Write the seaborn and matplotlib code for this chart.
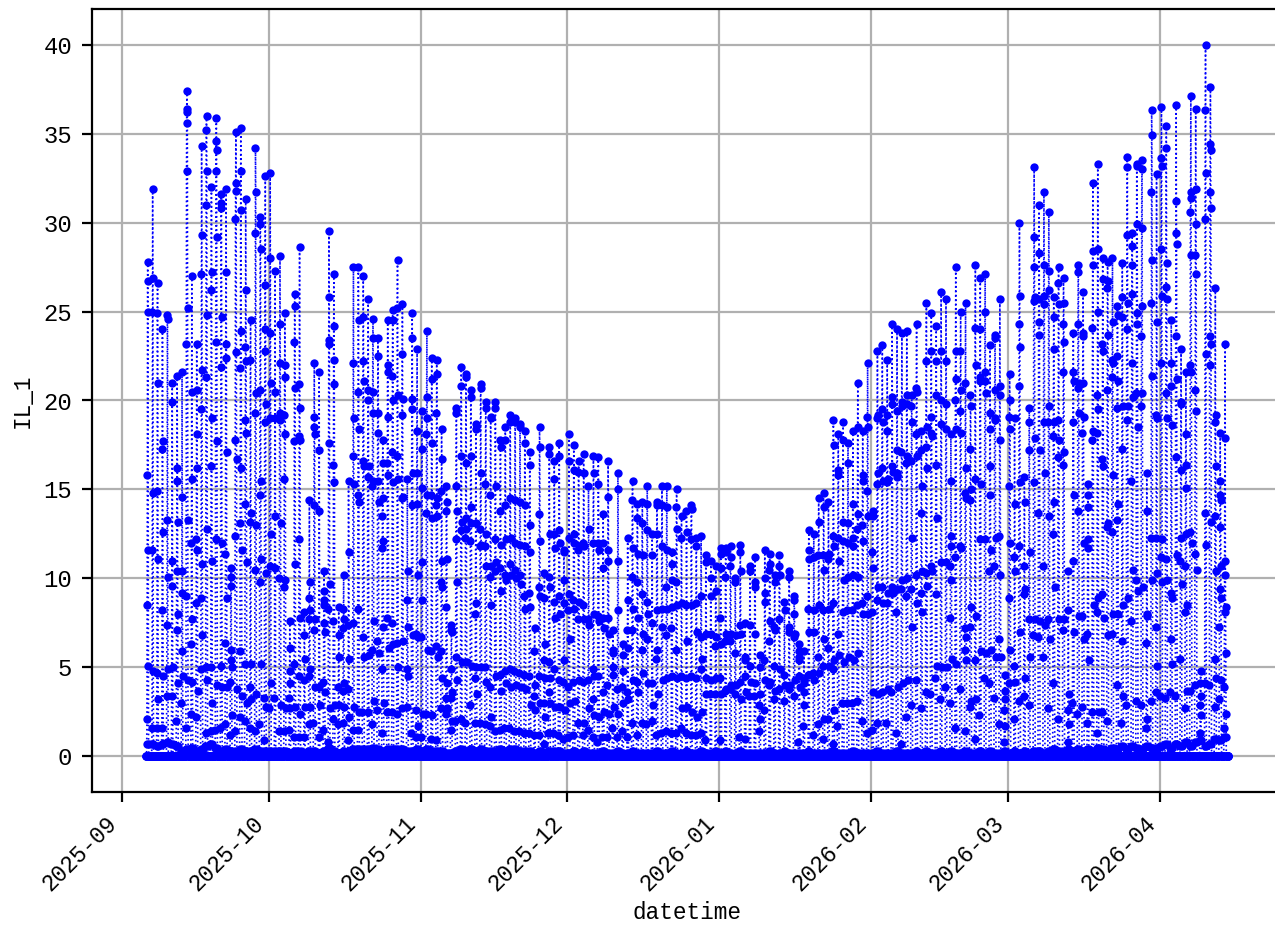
import pandas as pd
import matplotlib
matplotlib.use('Agg')
import matplotlib.pyplot as plt
import matplotlib.dates as mdates
import seaborn as sns

# daytime readings per day
sep_days = [
    [27.8, 26.7, 25, 15.8, 11.6, 8.5, 5.1, 2.1], [31.9, 26.9, 25, 14.8, 11.6, 4.8, 1.6], [26.6, 24.9, 21, 14.9, 11.1, 4.7, 3.2, 1.6],
    [24, 17.7, 17.3, 12.6, 8.2, 4.5, 1.6], [24.8, 24.6, 13.3, 10.1, 7.4, 4.9, 3.4], [21, 19.9, 11, 9.6, 5, 3.4],
    [21.4, 16.2, 15.5, 13.2, 10.4, 8, 7.1, 4.1, 2], [21.6, 14.6, 10.4, 9.2, 5.9, 4.5, 3], [37.4, 36.4, 36.2, 35.6, 32.9, 25.2, 23.2, 13.3, 9, 4.3, 1.6],
    [27, 20.5, 15.6, 12, 7.7, 6.3, 4.2, 2.4], [23.2, 20.6, 18.1, 16.2, 12.2, 11.6, 8.6, 3.7, 2.2], [34.3, 29.3, 27.1, 21.7, 19.5, 10.8, 8.9, 6.8, 4.9],
    [36, 35.2, 32.9, 31, 24.8, 21.3, 12.8, 5, 4.3, 1.3], [32, 27.2, 26.2, 19, 16.3, 11, 5, 3, 1.4], [35.9, 34.6, 34.1, 32.9, 29.2, 23.3, 17.7, 12.2, 4, 1.5],
    [31.6, 31.1, 30.8, 24.7, 21.9, 12, 5.1, 3.9, 1.6], [31.9, 27.2, 23.2, 22.4, 17.1, 11.4, 8.9, 6.4, 3.9, 1.8], [10.6, 10.1, 9.6, 6, 5.4, 5, 4.2, 2.3, 1.2],
    [35.1, 32.2, 31.8, 30.2, 22.7, 17.8, 16.7, 12.4, 3.8, 1.4], [35.3, 32.9, 30.7, 23.9, 21.8, 16.2, 13.1, 11.6, 5.9, 3.4, 2.2], [31.3, 26.2, 23, 22.2, 18.9, 18.2, 14.2, 10.9, 5.2, 3, 2],
    [24.5, 22.3, 13.7, 13.2, 5.2, 3.9, 3.2, 1.6], [34.2, 31.7, 29.4, 20.4, 19.3, 13, 10.5, 3.5, 1.4], [30.3, 29.9, 28.5, 20.6, 15.5, 14.7, 11.1, 9.8, 5.2, 1.8],
    [32.6, 26.5, 24, 22.8, 19.8, 18.8, 10.3, 3.3, 2.8, 0.9],
]
oct_days = [
    [32.8, 28, 23.8, 21, 19, 12.5, 10.7, 4.1, 2.7], [27.3, 20.5, 19, 13.5, 10.6, 3.3], [28.1, 24.3, 22.1, 19.3, 18.9, 13.1, 10, 2.9, 1.4],
    [24.9, 22, 21.3, 19.2, 18.1, 15.6, 9.9, 9.5, 2.7, 1.4], [7.6, 6.1, 4.8, 4.1, 3.3, 2.7, 1.5], [26, 25.3, 23.3, 20.7, 17.7, 10.8, 5.2, 2.8, 1.1],
    [28.6, 20.9, 19.6, 18, 17.8, 12.2, 7.8, 4.5, 2.4, 1.1], [8.1, 6.8, 5.5, 4.3, 2.8, 1.1], [14.4, 9.8, 8.9, 8.2, 7.7, 4.9, 4.5, 2.8, 1.8],
    [22.1, 19.1, 18.5, 18.1, 14.1, 7.7, 7.1, 3.9, 1.9], [21.6, 17.2, 13.8, 3.9, 2.9, 1.1], [10.4, 9.3, 8.8, 8.5, 7.5, 7, 4.2, 3.6, 1.5],
    [29.5, 25.8, 23.4, 23.2, 17.6, 9.7, 8.3, 2.7, 0.8], [27.1, 24.2, 22.3, 20.9, 16.4, 15.4, 7.6, 2.9, 2.1], [8.4, 6.8, 5.6, 3.9, 2.9, 1.8],
    [10.2, 8.3, 7.7, 7.2, 4.1, 3.7, 2.8, 1.9], [15.5, 11.5, 7.4, 5.5, 3.8, 2.2, 0.9], [27.5, 22.1, 19, 16.9, 15.3, 7.5, 2.8, 1.5],
    [27.5, 24.5, 20.5, 18.4, 14.7, 14.3, 8.3, 2.5, 1.5], [27, 24.7, 22.2, 21.1, 16.6, 16.3, 6.7, 5.6, 2.5], [25.7, 20.6, 20, 16.3, 15.7, 5.7, 2.5],
    [24.6, 23.5, 20.5, 19.3, 15.5, 15.2, 7.6, 6, 3.1, 1.8], [23.5, 22.5, 19.3, 18.2, 15.5, 14.3, 6.5, 5.8, 2.6], [17.8, 16.5, 14.5, 13.5, 12.1, 11.7, 7.3, 4.9, 3, 1.3],
    [24.5, 22, 21.6, 19.1, 16.5, 15.8, 7.8, 6.1, 2.5], [25.1, 24.5, 21.4, 20, 17.1, 15.4, 7.5, 6.3, 2.5], [27.9, 25.2, 20.3, 16.9, 15.6, 6.4, 5, 2.4],
    [25.4, 22.6, 20.1, 19.2, 14.6, 14.5, 6.5, 2.7], [15.6, 10.4, 8.8, 7.3, 4.9, 4.5, 2.8], [24.9, 23.5, 20.1, 19.5, 15.9, 14.1, 6.8, 1.3],
    [22.9, 18.3, 15.9, 14.2, 10.2, 6.9, 6.7, 2.6, 1.7, 1.1],
]
nov_days = [
    [19.4, 17.3, 15.1, 10.9, 8.8, 6.7, 2.4, 1.1], [23.9, 20.2, 19, 18.1, 14.7, 13.7, 6, 2.4], [22.4, 21.2, 17.6, 14.7, 13.4, 5.9, 2.3, 1],
    [22.3, 21.5, 19.3, 14.5, 14.1, 13.5, 6.2, 5.6, 0.9], [18.4, 16.7, 14.9, 11, 9.8, 9.5, 5.9, 4.4, 2.7], [15.2, 14.3, 13.8, 11.1, 8.4, 4.1, 3.3, 2.7, 2.4],
    [7.4, 7.1, 7, 4.9, 3.6, 3.3, 2, 1.5], [19.6, 19.3, 15.2, 13.8, 12.2, 9.8, 5.6, 4.3, 2], [21.9, 20.8, 16.9, 13.2, 12.7, 5.3, 2.1],
    [21.5, 21.3, 16.5, 13.4, 12.8, 12.3, 5.3, 1.9], [20.6, 20.2, 16.9, 14, 13.1, 12.1, 5.1, 2.9], [18.7, 18.4, 13.1, 8.6, 8, 5, 4.4, 3.5, 1.9],
    [20.9, 20.7, 15.9, 12.8, 11.9, 11.8, 5, 1.9], [19.9, 19.6, 15.3, 12.5, 11.8, 10.7, 5, 4.2, 1.8], [19.1, 19, 14.7, 10.7, 10.1, 8.5, 3.9, 2.2, 1.7],
    [19.9, 19.6, 15.2, 12.2, 10.9, 10.4, 4.5, 1.4], [17.8, 17.4, 13.8, 11.9, 10.6, 9.3, 4.6, 3.7, 1.5], [18.5, 17.8, 14.1, 12.2, 10.2, 9.9, 4.8, 4.1, 1.6],
    [19.2, 18.8, 14.5, 12.3, 10.8, 10.2, 4.9, 3.9, 1.6], [19, 18.8, 14.4, 12, 10.5, 10, 4.8, 4, 1.4], [18.7, 18.5, 14.3, 11.9, 10.2, 9.7, 4.7, 3.9, 1.4],
    [18.3, 17.6, 14.1, 11.8, 9, 8.3, 4.6, 3.8, 1.3], [17.1, 16.4, 13, 11.5, 9.2, 8.4, 4.5, 2.9, 1.3], [7.2, 5.9, 4, 3.4, 2.6, 1.2],
    [18.5, 17.4, 13.6, 12.1, 9.5, 9, 4.5, 3, 1.2], [10.3, 8.9, 6.3, 5.4, 4.4, 3, 2.2, 0.7], [17.4, 17, 12.5, 10.1, 9.5, 5.3, 4.4, 3.6, 3, 1.3],
    [16.6, 15.6, 12.5, 11.7, 8.7, 7.8, 4.9, 2.8, 1.3], [17.6, 16.9, 12.7, 12, 9, 8, 4.3, 2.8, 1.2], [11.6, 11.5, 9.9, 8.6, 5.4, 4.2, 2.6, 1],
]
dec_days = [
    [18.1, 16.6, 12.3, 9.1, 8.2, 6.6, 3.9, 3, 1.1], [17.5, 16.1, 12.5, 12, 8.8, 8.3, 4.2, 3.1, 1.2], [16.6, 16, 11.8, 11.6, 8.7, 7.7, 4.3, 1.9],
    [17, 15.9, 12, 11.8, 8.5, 7.7, 4.2, 1.9, 1.2], [15.2, 12.8, 7.7, 7.4, 4.3, 2.7, 1.5], [16.9, 15.9, 12, 8, 4.9, 4.5, 3.2, 2.3, 1.1],
    [16.8, 15.3, 12, 11.6, 7.9, 7.6, 4.5, 2.2, 0.8], [13.6, 12, 10.6, 7.8, 7.2, 3.6, 2.5, 1.1], [16.6, 14.6, 11.6, 11, 7.8, 6.9, 4, 2.4, 1.1],
    [7.1, 6, 5.8, 5, 4.6, 2.8, 1.6], [15.9, 15, 11, 8.2, 3.8, 2.4, 1.1], [6.3, 5.7, 4.8, 3.9, 3, 1.4],
    [12.3, 8.8, 7.1, 6.1, 3.6, 3.2, 1.1], [15.5, 14.4, 11.7, 10.1, 8.3, 7.1, 4.3, 1.9], [14.2, 13.4, 11.4, 9.8, 7.8, 4.2, 3.6, 1.2],
    [14.3, 13.1, 11.3, 9.1, 6.9, 6, 4.7, 1.9], [15.2, 14.2, 12.7, 8.7, 8, 6.6, 4.1, 1.8], [12.5, 11.3, 7.5, 4.1, 2.9, 2],
    [14.3, 14.1, 12.5, 8.2, 6, 5.5, 3.5, 1.2], [15.2, 14.1, 11.8, 8.3, 7.3, 4.3, 1.3], [15.2, 14, 11.6, 9.5, 8.3, 6.8, 4.4, 1.4],
    [11.5, 10.8, 9.9, 8.4, 7.2, 4.5, 1.3], [15, 14, 12.8, 9.8, 8.5, 6, 4.4, 1.3], [13.5, 12.3, 8.6, 4.5, 2.7, 1.6],
    [13.8, 12.6, 8.5, 6.5, 4.4, 2.8, 1.3], [14.1, 13.9, 12.2, 8.5, 4.5, 2.5, 1.2], [12.3, 11.8, 8.6, 7, 4.4, 2.2, 1.2],
    [12.4, 9, 6.7, 5.5, 4.9, 2.5, 1.3], [11.3, 10.9, 6.9, 4.4, 3.5, 0.9], [11, 10, 9, 6.9, 4.3, 3.5],
    [10.7, 9.3, 6.7, 6.2, 4.4, 3.5],
]
jan_days = [
    [11.7, 11.4, 10.6, 7.8, 6.3, 4.4, 3.5, 0.9], [11.7, 11.5, 10.1, 6.9, 6.5, 3.8, 3.7], [11.8, 11.2, 10.7, 6.9, 6.5, 4, 3.8],
    [10, 9.8, 6.8, 5.8, 4, 3.5], [11.9, 11.5, 10.4, 7.4, 6.9, 4.2, 3.2, 1.1], [7.5, 5.6, 5.4, 4.5, 3.6, 1],
    [10.7, 10.4, 7.4, 5.1, 4.2, 3.4], [11.2, 9.8, 9.5, 6.9, 4.1, 3.4], [5.7, 5, 3.5, 2.9, 2.1, 1.4],
    [11.6, 10, 9.2, 8.7, 5.4, 4.3, 2.6], [11.4, 10.8, 10.5, 7.6, 6.5, 4.2, 4], [10.2, 9.8, 7.3, 7.1, 5.1, 3.7, 3.2],
    [11.3, 10.7, 10.2, 7.7, 4.9, 3.8], [8.7, 8.2, 4.6, 4, 3.1], [10.4, 10.1, 7.3, 7, 4, 3.8],
    [9, 8.8, 8, 6.9, 6.7, 4.3, 3.4], [6.3, 5.9, 5.6, 5.4, 4.5, 3.9, 0.8], [5.9, 4.3, 4.1, 3.6, 2.9, 1.7],
    [12.7, 11.6, 11.1, 8.3, 7, 4.6], [12.5, 11.2, 8.2, 7, 4.7, 4.3, 1.2], [14.5, 13.2, 11.3, 8.5, 5.6, 4.7, 1.8],
    [14.8, 14, 11.3, 10.5, 8.2, 6.6, 5.1, 2.1, 1], [14.3, 11.4, 11.1, 8.3, 6.1, 5.1, 2.1], [18.9, 17.5, 12.4, 11.8, 8.6, 5.4, 4.9, 2.6, 0.7],
    [18.1, 16.1, 15.8, 12.3, 11, 6.9, 5.7, 1.7], [18.8, 17.8, 13.2, 12.1, 9.9, 8.1, 5.3, 3], [17.6, 16.5, 13.1, 12, 10.1, 8.2, 5.6, 3],
    [18.3, 14.2, 12.3, 11.8, 10.2, 8.2, 5.4, 3], [21, 18.5, 13.6, 12.8, 10.1, 8.5, 5.8, 3.1], [18.3, 15.8, 15.5, 13, 12.1, 8.6, 8, 2],
    [22.1, 19.1, 18.5, 14.9, 13.5, 9, 8, 1.3],
]
feb_days = [
    [13.8, 13.5, 11.5, 10.6, 8.1, 3.6, 1.5], [22.8, 19.2, 19, 15.9, 15.3, 9.5, 8.8, 3.5, 1.9], [23.1, 19.5, 18.8, 16.2, 15.5, 9.5, 8.6, 3.6],
    [22.3, 19.2, 18.3, 15.6, 15.4, 9.2, 8.6, 3.8, 1.9], [24.3, 20.2, 19.8, 16.3, 16, 9.5, 9.2, 3.6], [24, 19.4, 17.2, 15.9, 15.7, 9.4, 8.1, 3.9, 1.3],
    [23.8, 19.9, 19.7, 17.1, 9.9, 9.4, 4.1, 0.7], [23.9, 20.3, 19.8, 16.9, 16.5, 10, 9, 4.3, 2.2], [20.3, 19.7, 18.8, 16.6, 12.3, 9.4, 7.3, 2.9],
    [24.3, 20.7, 20.5, 18.1, 16.9, 10.2, 8.6, 4.3], [18.3, 17.2, 15.2, 13.7, 10.4, 9.2, 8.1, 2.7], [25.5, 22.2, 18.5, 17.4, 16.2, 10.3, 9.6, 3.6],
    [24.9, 22.8, 19.1, 18.2, 18, 10.7, 10.4, 3.5], [24.2, 22.2, 20.3, 16.4, 13.4, 9.1, 5.1, 4.4], [26.1, 22.8, 20, 18.7, 10.9, 5, 3.2],
    [25.7, 22.2, 19.8, 18.4, 10.9, 5, 3.9], [18.1, 15.5, 12.4, 11.8, 10.7, 9.9, 7.8, 5.5, 3], [27.5, 22.8, 21.2, 20, 18.4, 11.2, 5.2, 1.6],
    [25, 22.8, 20.6, 19.4, 18.2, 11.8, 11.7, 3.8], [25.5, 21, 16.2, 14.8, 14.5, 7.2, 6.7, 6, 5.4, 1.4], [20.3, 19.7, 17.3, 15, 14.4, 8.4, 7.3, 3.1, 2.8],
    [27.6, 24.1, 22, 15.6, 7.9, 5.4, 3.2, 1], [26.9, 24, 21.3, 21.1, 15.3, 12.2, 5.9, 2.3], [27.1, 25, 21.6, 21.1, 20.4, 12.2, 5.8, 4.4],
    [23.1, 19.3, 18.4, 16.3, 14.7, 11.6, 10.4, 6, 4.1], [23.7, 23.5, 20.6, 19, 18.9, 12.3, 10.7, 5.6, 3.3], [25.7, 20.8, 20.3, 17.8, 12.4, 10.2, 6.6, 5.6, 1.8],
    [4.6, 3.7, 3.2, 2.6, 1.7, 0.8],
]
mar_days = [
    [21.5, 20, 19.1, 18.4, 15.2, 12, 8.9, 6, 4.1], [19, 14.2, 11.2, 10.4, 5.1, 4.2, 2.1], [30, 25.9, 24.3, 23, 20.8, 15.4, 11.8, 7, 3.1],
    [15.7, 14.3, 10.7, 9.4, 9.1, 4.4, 3.4], [19.6, 18.8, 17.2, 11.5, 7.7, 5.6, 2.9], [33.1, 29.2, 27.5, 25.8, 25.6, 17.9, 15.4, 7.7, 6.8],
    [31, 28.3, 25.7, 24.4, 23.7, 17.2, 13.7, 7.6, 6.7], [31.7, 27.6, 25.9, 25.4, 18.8, 15.9, 10.7, 7.4, 5.6], [30.6, 27.3, 26.2, 19.7, 18.8, 13.5, 7.7, 6.6, 2.7],
    [25.8, 24.7, 22.9, 18.8, 18, 14.3, 12.5, 9.5, 4.1], [27.5, 26.6, 25.4, 18.9, 17.8, 16.8, 7.7, 2.1], [26.9, 25.5, 24.3, 23.3, 21.6, 17.1, 16.4, 7.7, 7.1],
    [10.4, 8.2, 3.5, 2.6, 1.8, 0.8], [23.8, 21.6, 21.1, 18.8, 14.7, 11, 7, 3], [27.6, 27.2, 24.3, 21, 20.7, 19.3, 13.8, 7.9, 2.4],
    [26.1, 23.8, 23.6, 21, 19.1, 18.2, 12, 7.9, 6.6, 2.8], [15.3, 14.7, 14, 12.2, 11.7, 6.9, 5.4, 1.9], [32.2, 28.4, 27.6, 24.1, 18.3, 17.8, 8.5, 2.5],
    [33.3, 28.5, 25, 20.3, 19.5, 18.2, 8.9, 8.1, 2.5, 1.3], [28, 26.8, 23.2, 22.8, 16.7, 16.3, 9.1, 7.8, 2.5], [27.8, 26.7, 26.3, 23.7, 20.6, 13.1, 12.9, 6.8, 2],
    [28, 24.4, 22.3, 22.1, 21.3, 15.8, 12.6, 8, 6.9], [25.3, 24.8, 22.5, 21.1, 19.6, 14.2, 13.3, 8, 4], [27.7, 25.8, 24.7, 19.7, 17.3, 8.5, 6.5, 3.4, 1.9],
    [33.7, 33.1, 29.3, 25.5, 24, 19.7, 18.9, 8.9, 2.9], [29.4, 28.7, 27.6, 26, 22.1, 20.2, 15.5, 10.5, 7.6], [33.3, 33.2, 29.9, 24.9, 24.3, 20.4, 18.5, 9.9, 9.3, 3.1],
    [33.5, 33, 29.7, 25.3, 23.6, 20.4, 19.7, 9.5, 2.9], [15.9, 13.8, 8, 7.9, 6.4, 2.1, 1.6], [36.3, 34.9, 31.7, 27.9, 25.5, 21.4, 12.3, 9.9, 3.1],
    [32.7, 24.4, 19.2, 19, 12.3, 10.3, 7.3, 5.1, 3.6],
]
apr_days = [
    [36.5, 33.6, 33.2, 28.5, 25.9, 22.1, 12.2, 11.2, 9.8, 3.4], [35.4, 34.2, 27.7, 26.4, 25.7, 20.4, 19, 11.1, 9.9, 3.3], [24.5, 22.1, 20.8, 18.6, 9.2, 8.9, 6.6, 5.2, 3.6],
    [36.6, 31.2, 29.4, 28.8, 23.6, 21.2, 16.8, 11.3, 3.4], [22.9, 19.9, 19.8, 16.1, 12.3, 11, 9.7, 5.5], [21.6, 18.1, 16.4, 15.1, 12.5, 10.7, 8.5, 8.1, 3.7, 2.7],
    [37.1, 31.7, 31.4, 30.6, 28.2, 22, 21.6, 12.6, 12, 3.7], [36.4, 31.9, 29.9, 28.2, 27.1, 20.6, 19.4, 11.4, 10.5, 4], [4.8, 4.1, 3.4, 2.9, 2.3, 1.3],
    [40, 36.3, 32.8, 30.2, 22.6, 13.7, 11.9, 4.1], [37.6, 34.4, 34.1, 31.7, 30.8, 23.6, 23.2, 22, 13.2, 4], [26.3, 19.2, 18.8, 16.3, 13.5, 10.4, 5.5, 4.4, 2.8],
    [18.2, 15.5, 14.7, 14.4, 12.9, 10.7, 9.4, 8.9, 7.3, 4.3, 3.2], [23.2, 17.9, 11, 10.2, 8.4, 8.1, 5.8, 3.9, 2.4, 1.6],
]
# faint early morning readings, one per day
sep_dawn = [0.7, 0.7, 0.6, 0.7, 0.8, 0.7, 0.6, 0.3, 0.4, 0.5, 0.3, 0.4, 0.6, 0.7, 0.5, 0.3, 0.4, 0.3, 0.3, 0.4, 0.3, 0.3, 0.4, 0.3, 0.3]
oct_dawn = [0.3, 0.3, 0.3, 0.3, 0.2, 0.3, 0.3, 0.2, 0.3, 0.3, 0.2, 0.3, 0.5, 0.3, 0.2, 0.3, 0.3, 0.4, 0.4, 0.4, 0.4, 0.5, 0.4, 0.3, 0.4, 0.4, 0.4, 0.4, 0.3, 0.3, 0.4]
nov_dawn = [0.3, 0.4, 0.3, 0.3, 0.3, 0.2, 0.2, 0.3, 0.4, 0.3, 0.4, 0.3, 0.4, 0.3, 0.3, 0.3, 0.4, 0.3, 0.4, 0.4, 0.3, 0.3, 0.3, 0.2, 0.3, 0.2, 0.3, 0.3, 0.3, 0.2]
dec_dawn = [0.2, 0.3, 0.2, 0.3, 0.2, 0.2, 0.2, 0.3, 0.2, 0.2, 0.3, 0.2, 0.2, 0.3, 0.2, 0.2, 0.2, 0.2, 0.3, 0.2, 0.2, 0.3, 0.2, 0.2, 0.3, 0.2, 0.2, 0.3, 0.2, 0.2, 0.3]
jan_dawn = [0.2, 0.3, 0.2, 0.2, 0.3, 0.2, 0.2, 0.2, 0.2, 0.2, 0.3, 0.2, 0.2, 0.3, 0.2, 0.2, 0.2, 0.2, 0.3, 0.2, 0.2, 0.2, 0.2, 0.3, 0.2, 0.2, 0.2, 0.3, 0.2, 0.2, 0.2]
feb_dawn = [0.2, 0.3, 0.2, 0.2, 0.2, 0.3, 0.2, 0.2, 0.2, 0.3, 0.2, 0.3, 0.2, 0.2, 0.3, 0.2, 0.3, 0.2, 0.2, 0.3, 0.2, 0.2, 0.3, 0.2, 0.3, 0.2, 0.2, 0.3]
mar_dawn = [0.2, 0.3, 0.2, 0.3, 0.2, 0.3, 0.3, 0.2, 0.3, 0.4, 0.3, 0.3, 0.4, 0.3, 0.4, 0.3, 0.4, 0.3, 0.5, 0.4, 0.3, 0.5, 0.4, 0.6, 0.4, 0.6, 0.5, 0.4, 0.6, 0.5, 0.5]
apr_dawn = [0.6, 0.7, 0.5, 0.7, 0.6, 0.8, 0.6, 0.8, 0.9, 0.6, 0.7, 1.0, 0.9, 1.1]

start_day = '2025-09-06'
peak_hour = 7

all_months = [sep_days, oct_days, nov_days, dec_days, jan_days, feb_days, mar_days, apr_days]
all_dawn = [sep_dawn, oct_dawn, nov_dawn, dec_dawn, jan_dawn, feb_dawn, mar_dawn, apr_dawn]


def build_frame():
    times = [pd.Timestamp(start_day) - pd.Timedelta(hours=2), pd.Timestamp(start_day) - pd.Timedelta(hours=1)]
    values = [0.0, 0.0]
    day = pd.Timestamp(start_day)
    for month, dawn in zip(all_months, all_dawn):
        for readings, low in zip(month, dawn):
            ordered = sorted(readings)
            seq = [low] + ordered[::2] + ordered[1::2][::-1] + [low]
            first = peak_hour - len(seq) // 2
            hourly = [0.0] * 24
            for i, v in enumerate(seq):
                hourly[first + i] = v
            for h in range(24):
                times.append(day + pd.Timedelta(hours=h))
                values.append(hourly[h])
            day += pd.Timedelta(days=1)
    return pd.DataFrame({'datetime': times, 'IL_1': values})


def main():
    df = build_frame()
    plt.rcParams['font.family'] = ['Liberation Mono', 'DejaVu Sans']
    plt.rcParams['font.size'] = 8.2

    fig = plt.figure(figsize=(1275 / 200, 926 / 200), dpi=200)
    ax = fig.add_axes([91.8 / 1275, (926 - 792) / 926, (1282.5 - 91.8) / 1275, (792 - 9) / 926])
    sns.lineplot(data=df, x='datetime', y='IL_1', color='blue', linestyle=':', linewidth=0.6,
                 marker='o', markersize=3, markeredgewidth=0, estimator=None, sort=False, ax=ax)
    ax.grid(True)
    ax.xaxis.set_major_locator(mdates.MonthLocator())
    ax.xaxis.set_major_formatter(mdates.DateFormatter('%Y-%m'))
    plt.setp(ax.get_xticklabels(), rotation=45, ha='right')
    ax.tick_params(axis='y', labelsize=8.6)
    ax.set_xlabel('datetime', labelpad=2.2)
    ax.set_ylabel('IL_1', labelpad=3.5)
    fig.savefig('out.png', dpi=200)
    plt.close()


if __name__ == "__main__":
    main()
